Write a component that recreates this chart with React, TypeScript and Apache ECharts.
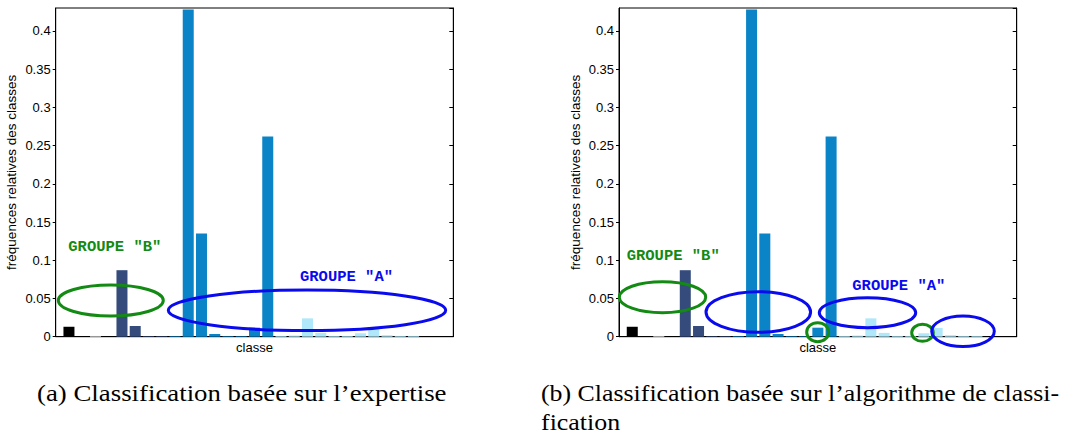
import React, { useEffect, useRef } from "react";
import * as echarts from "echarts";

// class index (1..27) and relative frequency of each class
const classIndex = [1, 2, 3, 4, 5, 6, 7, 8, 9, 10, 11, 12, 13, 14, 15, 16, 17, 18, 19, 20, 21, 22, 23, 24, 25, 26, 27];
const classFreq = [
  0.013, 0, 0.001, 0, 0.087, 0.014, 0.0008, 0.0008, 0.0008, 0.428, 0.135, 0.0035, 0.0008, 0.0008, 0.0118, 0.262,
  0.001, 0.0015, 0.024, 0.005, 0.001, 0.001, 0.0045, 0.0115, 0.002, 0.001, 0.001,
];
// colour group of each class
const classGroup = ["k", "k", "g", "g", "n", "n", "n", "n", "b", "b", "b", "b", "b", "b", "b", "b", "l", "l", "l", "l", "l", "l", "l", "l", "l", "l", "l"];
const yTicks = [0, 0.05, 0.1, 0.15, 0.2, 0.25, 0.3, 0.35, 0.4];
const yTickLabels = ["0", "0.05", "0.1", "0.15", "0.2", "0.25", "0.3", "0.35", "0.4"];
const groupLabels = ['GROUPE "B"', 'GROUPE "A"'];
const captions = [
  "(a) Classification basée sur l\u2019expertise",
  "(b) Classification basée sur l\u2019algorithme de classi-",
  "fication",
];
const yName = "fréquences relatives des classes";
const xName = "classe";

const palette: Record<string, string> = {
  k: "#000000",
  g: "#d8d8d8",
  n: "#344b7c",
  b: "#0a84c6",
  l: "#afe8fb",
};
const GREEN = "#138a13";
const BLUE = "#0a0aee";

export default function App() {
  const ref = useRef<HTMLDivElement>(null);
  useEffect(() => {
    if (!ref.current) return;
    const chart = echarts.init(ref.current, null, { renderer: "svg" });
    const grids = [
      { left: 55.7, top: 8, width: 397.6, height: 328.7 },
      { left: 619, top: 8, width: 397.7, height: 328.7 },
    ];
    const labelFmt = (v: number) => {
      const i = yTicks.findIndex((t) => Math.abs(t - v) < 1e-9);
      return i >= 0 ? yTickLabels[i] : "";
    };
    const xAxes = grids.map((_, gi) => ({
      type: "value" as const,
      gridIndex: gi,
      min: 0,
      max: 30,
      axisLine: { show: true, lineStyle: { color: "#000", width: 1 } },
      axisTick: { show: false },
      axisLabel: { show: false },
      splitLine: { show: false },
      name: xName,
      nameLocation: "middle" as const,
      nameGap: 4,
      nameTextStyle: { color: "#000", fontFamily: "Liberation Sans", fontSize: 13, verticalAlign: "top" as const },
    }));
    const yAxes: any[] = [];
    grids.forEach((_, gi) => {
      yAxes.push({
        type: "value",
        gridIndex: gi,
        position: "left",
        min: 0,
        max: 0.43,
        interval: 0.05,
        axisLine: { show: true, lineStyle: { color: "#000", width: 1 } },
        axisTick: { show: true, inside: false, length: 3, lineStyle: { color: "#000" } },
        axisLabel: {
          show: true,
          margin: 5,
          color: "#000",
          fontFamily: "Liberation Sans",
          fontSize: 13,
          showMaxLabel: false,
          formatter: labelFmt,
        },
        splitLine: { show: false },
        name: yName,
        nameLocation: "middle",
        nameGap: 37,
        nameTextStyle: { color: "#000", fontFamily: "Liberation Sans", fontSize: 13.5 },
      });
      yAxes.push({
        type: "value",
        gridIndex: gi,
        position: "right",
        min: 0,
        max: 0.43,
        interval: 0.05,
        axisLine: { show: true, lineStyle: { color: "#000", width: 1 } },
        axisTick: { show: true, inside: true, length: 4, lineStyle: { color: "#000" } },
        axisLabel: { show: false },
        splitLine: { show: false },
      });
    });
    const barData = classIndex.map((k, i) => ({
      value: [k, classFreq[i]],
      itemStyle: { color: palette[classGroup[i]] },
    }));
    const series = grids.map((_, gi) => ({
      type: "bar" as const,
      xAxisIndex: gi,
      yAxisIndex: gi * 2,
      barWidth: 11,
      data: barData,
      silent: true,
    }));

    const ell = (cx: number, cy: number, rx: number, ry: number, color: string) => ({
      type: "ellipse",
      z: 100,
      shape: { cx, cy, rx, ry },
      style: { fill: "none", stroke: color, lineWidth: 3 },
    });
    const grpText = (x: number, y: number, text: string, color: string) => ({
      type: "text",
      z: 100,
      x,
      y,
      style: {
        text,
        fill: color,
        font: 'bold 15.5px "Liberation Mono"',
        align: "left",
        verticalAlign: "middle",
      },
    });
    const capText = (x: number, y: number, text: string, sx: number) => ({
      type: "text",
      z: 100,
      x,
      y,
      scaleX: sx,
      style: {
        text,
        fill: "#000",
        font: '24px "Liberation Serif"',
        align: "left",
        verticalAlign: "middle",
      },
    });

    chart.setOption({
      animation: false,
      backgroundColor: "#fff",
      grid: grids.map((g) => ({ ...g, show: true, borderColor: "#000", borderWidth: 1, backgroundColor: "transparent" })),
      xAxis: xAxes,
      yAxis: yAxes,
      series,
      graphic: [
        // left panel
        ell(110.8, 300.5, 52.5, 15.5, GREEN),
        ell(307, 310.3, 138.7, 20.3, BLUE),
        grpText(68.3, 246.7, groupLabels[0], GREEN),
        grpText(300, 277.3, groupLabels[1], BLUE),
        // right panel
        ell(662.5, 297.2, 43.2, 15.5, GREEN),
        ell(758.3, 312, 52.3, 20.3, BLUE),
        ell(817.7, 332.2, 11, 9.5, GREEN),
        ell(867.5, 312.7, 48.2, 15, BLUE),
        ell(922.5, 332.8, 10.8, 8.5, GREEN),
        ell(963, 331.3, 31.3, 15.3, BLUE),
        grpText(626.7, 256, groupLabels[0], GREEN),
        grpText(852.3, 286, groupLabels[1], BLUE),
        // captions
        capText(37, 393, captions[0], 1.118),
        capText(541, 393, captions[1], 1.077),
        capText(541, 422, captions[2], 1.08),
      ],
    });
    return () => chart.dispose();
  }, []);
  return <div ref={ref} style={{ position: "fixed", left: 0, top: 0, width: 1075, height: 435, background: "#fff" }} />;
}
